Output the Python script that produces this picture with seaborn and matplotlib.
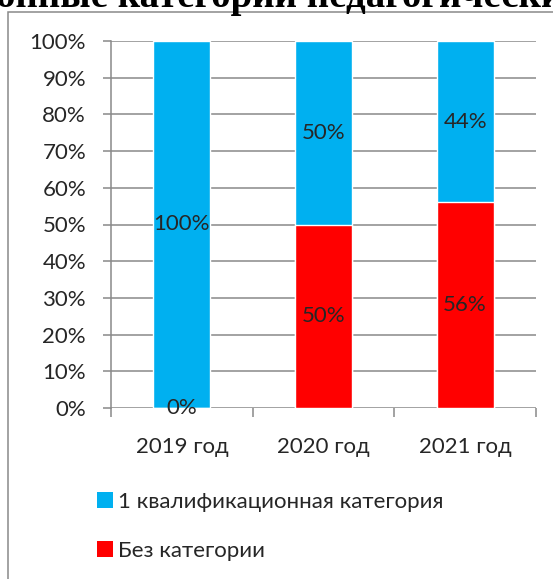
import matplotlib
matplotlib.use("Agg")
import matplotlib.pyplot as plt
import seaborn as sns
import pandas as pd
from matplotlib.patches import Patch, Rectangle
from matplotlib.ticker import FixedLocator

years = ["2019 год", "2020 год", "2021 год"]
cat1 = [100, 50, 44]      # 1 квалификационная категория
nocat = [0, 50, 56]       # Без категории
series_names = ["1 квалификационная категория", "Без категории"]
yticks = [0, 10, 20, 30, 40, 50, 60, 70, 80, 90, 100]
title_text = "онные категории педагогических"

BLUE = "#00B0F0"
RED = "#FF0000"
GRID = "#898989"
FS = 16

sns.set_theme(style="white")
plt.rcParams["font.family"] = ["Lato", "DejaVu Sans"]

W, H = 553, 579
fig = plt.figure(figsize=(W / 100, H / 100), dpi=100)

def fx(px):
    return px / W

def fy(py):
    return 1 - py / H

# outer chart frame (extends beyond figure)
fig.patches.append(Rectangle((fx(8), fy(700)), 2, fy(12) - fy(700),
                             transform=fig.transFigure, fill=False,
                             edgecolor=GRID, linewidth=1.1))

# partly-clipped title
fig.text(fx(-4), fy(7), title_text, fontsize=28, fontweight="bold",
         family="Liberation Serif", ha="left", va="baseline", color="black")

ax = fig.add_axes([fx(111), fy(408), fx(536) - fx(111), fy(41) - fy(408)])

df = pd.DataFrame({"year": years,
                   "total": [a + b for a, b in zip(cat1, nocat)],
                   "nocat": nocat,
                   "cat1": cat1})

sns.barplot(data=df, x="year", y="total", color=BLUE, width=0.4,
            saturation=1, ax=ax, zorder=3)
sns.barplot(data=df, x="year", y="nocat", color=RED, width=0.4,
            saturation=1, ax=ax, zorder=4)

ax.set_xlim(-0.5, 2.5)
ax.set_ylim(0, 100)
ax.set_yticks(yticks)
ax.set_yticklabels([f"{v}%" for v in yticks])
ax.set_xlabel("")
ax.set_ylabel("")

for v in yticks:
    ax.axhline(v, color=GRID, linewidth=1.1, zorder=1)

for s in ["top", "right", "bottom"]:
    ax.spines[s].set_visible(False)
ax.spines["left"].set_color(GRID)
ax.spines["left"].set_linewidth(1.1)
ax.spines["left"].set_zorder(2)

ax.tick_params(axis="y", direction="out", length=6, width=1.1, color=GRID,
               pad=12, labelsize=FS, left=True)
ax.tick_params(axis="x", which="major", length=0, pad=21, labelsize=FS)
ax.xaxis.set_minor_locator(FixedLocator([-0.5, 0.5, 1.5, 2.5]))
ax.tick_params(axis="x", which="minor", direction="out", length=6.5,
               width=1.1, color=GRID, bottom=True)

# data labels
for i in range(len(years)):
    ax.text(i, nocat[i] / 2, f"{nocat[i]}%", ha="center", va="center",
            fontsize=FS, zorder=6)
    ax.text(i, nocat[i] + cat1[i] / 2, f"{cat1[i]}%", ha="center",
            va="center", fontsize=FS, zorder=6)

handles = [Patch(facecolor=BLUE, edgecolor="none"),
           Patch(facecolor=RED, edgecolor="none")]
fig.legend(handles, series_names, loc="upper left",
           bbox_to_anchor=(fx(97), fy(492)), frameon=False, fontsize=FS,
           handlelength=0.72, handleheight=0.7, handletextpad=0.22,
           labelspacing=1.3, borderpad=0, borderaxespad=0)

fig.savefig("out.png", dpi=100)
